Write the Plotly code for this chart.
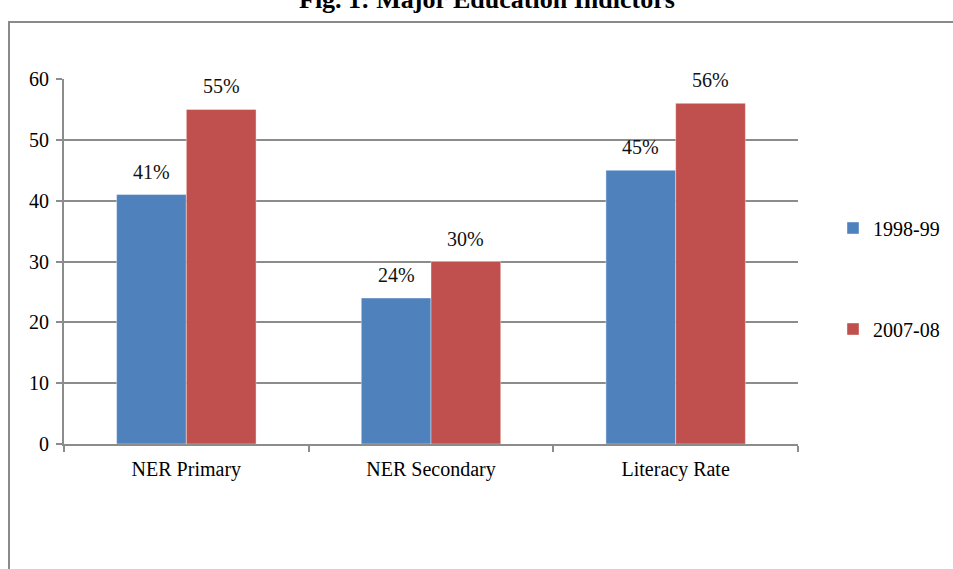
import plotly.graph_objects as go

# Education indicators (%), two survey periods
categories = ["NER Primary", "NER Secondary", "Literacy Rate"]
series_names = ["1998-99", "2007-08"]
values_1998 = [41, 24, 45]
values_2007 = [55, 30, 56]
y_ticks = [0, 10, 20, 30, 40, 50, 60]

colors = ["#4F81BD", "#C0504D"]
font_family = "Times New Roman, Tinos, Liberation Serif, DejaVu Serif, serif"
grid_color = "#8c8c8c"

W, H = 953, 569
L, R, T, B = 64, 155, 79, 125
plot_w = W - L - R
plot_h = H - T - B

fig = go.Figure()
for i, (name, vals) in enumerate(zip(series_names, [values_1998, values_2007])):
    fig.add_trace(go.Bar(
        x=categories, y=vals, name=name,
        marker=dict(color=colors[i], line=dict(color="rgba(255,255,255,0.5)", width=0.8)),
        legendgroup=name,
    ))

# Percentage labels above each bar
bar_px = plot_w / len(categories) * (1 - 0.43) / 2
for i, vals in enumerate([values_1998, values_2007]):
    shift = -bar_px / 2 if i == 0 else bar_px / 2
    for c, v in zip(categories, vals):
        fig.add_annotation(
            x=c, y=v, text=f"{v}%", showarrow=False,
            xshift=shift, yshift=23, yanchor="middle",
            font=dict(family=font_family, size=20, color="#111111"),
        )

def px_x(px):
    return (px - L) / plot_w

def px_y(py):
    return (H - B - py) / plot_h

# Outer frame
fig.add_shape(type="rect", xref="paper", yref="paper",
              x0=px_x(9), x1=px_x(980), y0=px_y(600), y1=px_y(22),
              line=dict(color="#8a8a8a", width=2), fillcolor="rgba(0,0,0,0)", layer="below")

# Figure caption
fig.add_annotation(xref="paper", yref="paper", x=px_x(487), y=px_y(-1),
                   text="<b>Fig. 1: Major Education Indictors</b>", showarrow=False,
                   xanchor="center", yanchor="middle",
                   font=dict(family=font_family, size=26, color="#000000"))

fig.update_layout(
    width=W, height=H,
    margin=dict(l=L, r=R, t=T, b=B, autoexpand=False),
    paper_bgcolor="white", plot_bgcolor="white",
    barmode="group", bargap=0.43, bargroupgap=0,
    font=dict(family=font_family, size=20, color="#000000"),
    showlegend=True,
    legend=dict(x=px_x(833), y=px_y(278.5), xanchor="left", yanchor="middle",
                traceorder="grouped", tracegroupgap=72,
                font=dict(family=font_family, size=20, color="#000000"),
                itemwidth=30, bgcolor="rgba(0,0,0,0)"),
)
fig.update_xaxes(
    showline=True, linecolor=grid_color, linewidth=2,
    ticks="outside", tickson="boundaries", ticklen=6, tickcolor=grid_color, tickwidth=2,
    showgrid=False, ticklabelstandoff=6,
)
fig.update_yaxes(
    range=[0, 60], tickvals=y_ticks,
    showline=True, linecolor=grid_color, linewidth=2,
    ticks="outside", ticklen=6, tickcolor=grid_color, tickwidth=2,
    showgrid=True, gridcolor=grid_color, gridwidth=2,
    zeroline=False, ticklabelstandoff=3,
)

fig.write_html("out.html")
